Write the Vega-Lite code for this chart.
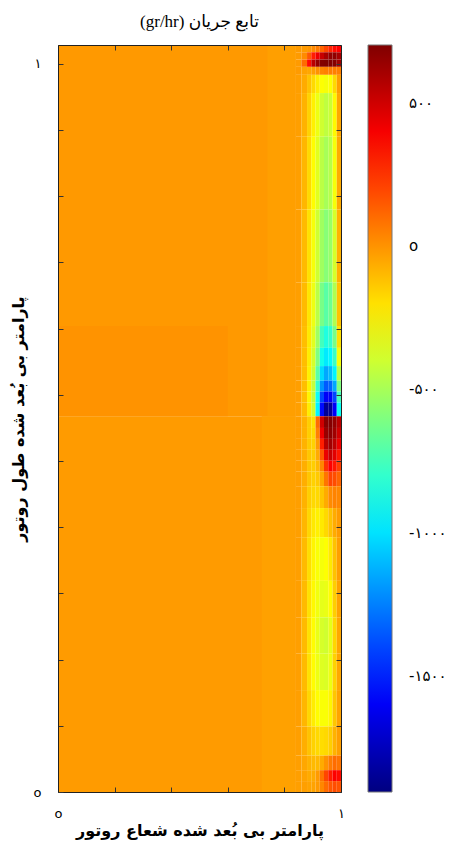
{
  "$schema": "https://vega.github.io/schema/vega-lite/v6.json",
  "autosize": "none",
  "width": 283,
  "height": 747,
  "padding": {"left": 58, "top": 45, "right": 114, "bottom": 49},
  "background": "white",
  "title": {"text": "(gr/hr) تابع جریان", "font": "Liberation Serif, DejaVu Sans", "fontSize": 17, "fontWeight": "normal", "color": "#000", "anchor": "middle", "offset": 14},
  "config": {"view": {"stroke": null}},
  "data": {"values": [
    {"x0":0,"x1":0.84,"y0":0,"y1":0.516,"v":-20},
    {"x0":0,"x1":0.84,"y0":0.516,"y1":1.026,"v":-15},
    {"x0":0,"x1":0.6,"y0":0.516,"y1":0.64,"v":0},
    {"x0":0.72,"x1":0.84,"y0":0,"y1":0.516,"v":-35},
    {"x0":0.74,"x1":0.84,"y0":0.516,"y1":1.026,"v":-30},

    {"x0":0.84,"x1":0.86,"y0":1.016,"y1":1.026,"v":-20},{"x0":0.86,"x1":0.88,"y0":1.016,"y1":1.026,"v":-20},{"x0":0.88,"x1":0.895,"y0":1.016,"y1":1.026,"v":-10},{"x0":0.895,"x1":0.91,"y0":1.016,"y1":1.026,"v":20},{"x0":0.91,"x1":0.925,"y0":1.016,"y1":1.026,"v":60},{"x0":0.925,"x1":0.94,"y0":1.016,"y1":1.026,"v":120},{"x0":0.94,"x1":0.955,"y0":1.016,"y1":1.026,"v":200},{"x0":0.955,"x1":0.97,"y0":1.016,"y1":1.026,"v":280},{"x0":0.97,"x1":0.985,"y0":1.016,"y1":1.026,"v":350},{"x0":0.985,"x1":1,"y0":1.016,"y1":1.026,"v":380},
    {"x0":0.84,"x1":0.86,"y0":1.006,"y1":1.016,"v":-20},{"x0":0.86,"x1":0.88,"y0":1.006,"y1":1.016,"v":20},{"x0":0.88,"x1":0.895,"y0":1.006,"y1":1.016,"v":150},{"x0":0.895,"x1":0.91,"y0":1.006,"y1":1.016,"v":300},{"x0":0.91,"x1":0.925,"y0":1.006,"y1":1.016,"v":420},{"x0":0.925,"x1":0.94,"y0":1.006,"y1":1.016,"v":520},{"x0":0.94,"x1":0.955,"y0":1.006,"y1":1.016,"v":600},{"x0":0.955,"x1":0.97,"y0":1.006,"y1":1.016,"v":650},{"x0":0.97,"x1":0.985,"y0":1.006,"y1":1.016,"v":660},{"x0":0.985,"x1":1,"y0":1.006,"y1":1.016,"v":600},
    {"x0":0.84,"x1":0.86,"y0":0.996,"y1":1.006,"v":-20},{"x0":0.86,"x1":0.88,"y0":0.996,"y1":1.006,"v":100},{"x0":0.88,"x1":0.895,"y0":0.996,"y1":1.006,"v":350},{"x0":0.895,"x1":0.91,"y0":0.996,"y1":1.006,"v":550},{"x0":0.91,"x1":0.925,"y0":0.996,"y1":1.006,"v":650},{"x0":0.925,"x1":0.94,"y0":0.996,"y1":1.006,"v":690},{"x0":0.94,"x1":0.955,"y0":0.996,"y1":1.006,"v":700},{"x0":0.955,"x1":0.97,"y0":0.996,"y1":1.006,"v":700},{"x0":0.97,"x1":0.985,"y0":0.996,"y1":1.006,"v":690},{"x0":0.985,"x1":1,"y0":0.996,"y1":1.006,"v":620},
    {"x0":0.84,"x1":0.86,"y0":0.985,"y1":0.996,"v":-20},{"x0":0.86,"x1":0.88,"y0":0.985,"y1":0.996,"v":-40},{"x0":0.88,"x1":0.895,"y0":0.985,"y1":0.996,"v":-50},{"x0":0.895,"x1":0.91,"y0":0.985,"y1":0.996,"v":-30},{"x0":0.91,"x1":0.925,"y0":0.985,"y1":0.996,"v":0},{"x0":0.925,"x1":0.94,"y0":0.985,"y1":0.996,"v":30},{"x0":0.94,"x1":0.955,"y0":0.985,"y1":0.996,"v":50},{"x0":0.955,"x1":0.97,"y0":0.985,"y1":0.996,"v":50},{"x0":0.97,"x1":0.985,"y0":0.985,"y1":0.996,"v":50},{"x0":0.985,"x1":1,"y0":0.985,"y1":0.996,"v":50},
    {"x0":0.84,"x1":0.86,"y0":0.96,"y1":0.985,"v":-30},{"x0":0.86,"x1":0.88,"y0":0.96,"y1":0.985,"v":-60},{"x0":0.88,"x1":0.895,"y0":0.96,"y1":0.985,"v":-120},{"x0":0.895,"x1":0.91,"y0":0.96,"y1":0.985,"v":-180},{"x0":0.91,"x1":0.925,"y0":0.96,"y1":0.985,"v":-230},{"x0":0.925,"x1":0.94,"y0":0.96,"y1":0.985,"v":-280},{"x0":0.94,"x1":0.955,"y0":0.96,"y1":0.985,"v":-300},{"x0":0.955,"x1":0.97,"y0":0.96,"y1":0.985,"v":-280},{"x0":0.97,"x1":0.985,"y0":0.96,"y1":0.985,"v":-180},{"x0":0.985,"x1":1,"y0":0.96,"y1":0.985,"v":-30},
    {"x0":0.84,"x1":0.86,"y0":0.9,"y1":0.96,"v":-30},{"x0":0.86,"x1":0.88,"y0":0.9,"y1":0.96,"v":-80},{"x0":0.88,"x1":0.895,"y0":0.9,"y1":0.96,"v":-160},{"x0":0.895,"x1":0.91,"y0":0.9,"y1":0.96,"v":-240},{"x0":0.91,"x1":0.925,"y0":0.9,"y1":0.96,"v":-320},{"x0":0.925,"x1":0.94,"y0":0.9,"y1":0.96,"v":-400},{"x0":0.94,"x1":0.955,"y0":0.9,"y1":0.96,"v":-440},{"x0":0.955,"x1":0.97,"y0":0.9,"y1":0.96,"v":-410},{"x0":0.97,"x1":0.985,"y0":0.9,"y1":0.96,"v":-260},{"x0":0.985,"x1":1,"y0":0.9,"y1":0.96,"v":-50},
    {"x0":0.84,"x1":0.86,"y0":0.8,"y1":0.9,"v":-30},{"x0":0.86,"x1":0.88,"y0":0.8,"y1":0.9,"v":-90},{"x0":0.88,"x1":0.895,"y0":0.8,"y1":0.9,"v":-180},{"x0":0.895,"x1":0.91,"y0":0.8,"y1":0.9,"v":-270},{"x0":0.91,"x1":0.925,"y0":0.8,"y1":0.9,"v":-350},{"x0":0.925,"x1":0.94,"y0":0.8,"y1":0.9,"v":-450},{"x0":0.94,"x1":0.955,"y0":0.8,"y1":0.9,"v":-500},{"x0":0.955,"x1":0.97,"y0":0.8,"y1":0.9,"v":-460},{"x0":0.97,"x1":0.985,"y0":0.8,"y1":0.9,"v":-300},{"x0":0.985,"x1":1,"y0":0.8,"y1":0.9,"v":-60},
    {"x0":0.84,"x1":0.86,"y0":0.7,"y1":0.8,"v":-30},{"x0":0.86,"x1":0.88,"y0":0.7,"y1":0.8,"v":-100},{"x0":0.88,"x1":0.895,"y0":0.7,"y1":0.8,"v":-200},{"x0":0.895,"x1":0.91,"y0":0.7,"y1":0.8,"v":-300},{"x0":0.91,"x1":0.925,"y0":0.7,"y1":0.8,"v":-400},{"x0":0.925,"x1":0.94,"y0":0.7,"y1":0.8,"v":-520},{"x0":0.94,"x1":0.955,"y0":0.7,"y1":0.8,"v":-580},{"x0":0.955,"x1":0.97,"y0":0.7,"y1":0.8,"v":-540},{"x0":0.97,"x1":0.985,"y0":0.7,"y1":0.8,"v":-380},{"x0":0.985,"x1":1,"y0":0.7,"y1":0.8,"v":-80},
    {"x0":0.84,"x1":0.86,"y0":0.64,"y1":0.7,"v":-30},{"x0":0.86,"x1":0.88,"y0":0.64,"y1":0.7,"v":-100},{"x0":0.88,"x1":0.895,"y0":0.64,"y1":0.7,"v":-210},{"x0":0.895,"x1":0.91,"y0":0.64,"y1":0.7,"v":-320},{"x0":0.91,"x1":0.925,"y0":0.64,"y1":0.7,"v":-450},{"x0":0.925,"x1":0.94,"y0":0.64,"y1":0.7,"v":-620},{"x0":0.94,"x1":0.955,"y0":0.64,"y1":0.7,"v":-700},{"x0":0.955,"x1":0.97,"y0":0.64,"y1":0.7,"v":-650},{"x0":0.97,"x1":0.985,"y0":0.64,"y1":0.7,"v":-480},{"x0":0.985,"x1":1,"y0":0.64,"y1":0.7,"v":-120},
    {"x0":0.84,"x1":0.86,"y0":0.61,"y1":0.64,"v":-30},{"x0":0.86,"x1":0.88,"y0":0.61,"y1":0.64,"v":-110},{"x0":0.88,"x1":0.895,"y0":0.61,"y1":0.64,"v":-220},{"x0":0.895,"x1":0.91,"y0":0.61,"y1":0.64,"v":-350},{"x0":0.91,"x1":0.925,"y0":0.61,"y1":0.64,"v":-520},{"x0":0.925,"x1":0.94,"y0":0.61,"y1":0.64,"v":-760},{"x0":0.94,"x1":0.955,"y0":0.61,"y1":0.64,"v":-850},{"x0":0.955,"x1":0.97,"y0":0.61,"y1":0.64,"v":-800},{"x0":0.97,"x1":0.985,"y0":0.61,"y1":0.64,"v":-620},{"x0":0.985,"x1":1,"y0":0.61,"y1":0.64,"v":-200},
    {"x0":0.84,"x1":0.86,"y0":0.585,"y1":0.61,"v":-30},{"x0":0.86,"x1":0.88,"y0":0.585,"y1":0.61,"v":-110},{"x0":0.88,"x1":0.895,"y0":0.585,"y1":0.61,"v":-230},{"x0":0.895,"x1":0.91,"y0":0.585,"y1":0.61,"v":-380},{"x0":0.91,"x1":0.925,"y0":0.585,"y1":0.61,"v":-600},{"x0":0.925,"x1":0.94,"y0":0.585,"y1":0.61,"v":-880},{"x0":0.94,"x1":0.955,"y0":0.585,"y1":0.61,"v":-980},{"x0":0.955,"x1":0.97,"y0":0.585,"y1":0.61,"v":-940},{"x0":0.97,"x1":0.985,"y0":0.585,"y1":0.61,"v":-780},{"x0":0.985,"x1":1,"y0":0.585,"y1":0.61,"v":-300},
    {"x0":0.84,"x1":0.86,"y0":0.565,"y1":0.585,"v":-30},{"x0":0.86,"x1":0.88,"y0":0.565,"y1":0.585,"v":-110},{"x0":0.88,"x1":0.895,"y0":0.565,"y1":0.585,"v":-240},{"x0":0.895,"x1":0.91,"y0":0.565,"y1":0.585,"v":-400},{"x0":0.91,"x1":0.925,"y0":0.565,"y1":0.585,"v":-700},{"x0":0.925,"x1":0.94,"y0":0.565,"y1":0.585,"v":-1020},{"x0":0.94,"x1":0.955,"y0":0.565,"y1":0.585,"v":-1150},{"x0":0.955,"x1":0.97,"y0":0.565,"y1":0.585,"v":-1100},{"x0":0.97,"x1":0.985,"y0":0.565,"y1":0.585,"v":-950},{"x0":0.985,"x1":1,"y0":0.565,"y1":0.585,"v":-450},
    {"x0":0.84,"x1":0.86,"y0":0.55,"y1":0.565,"v":-30},{"x0":0.86,"x1":0.88,"y0":0.55,"y1":0.565,"v":-110},{"x0":0.88,"x1":0.895,"y0":0.55,"y1":0.565,"v":-240},{"x0":0.895,"x1":0.91,"y0":0.55,"y1":0.565,"v":-420},{"x0":0.91,"x1":0.925,"y0":0.55,"y1":0.565,"v":-800},{"x0":0.925,"x1":0.94,"y0":0.55,"y1":0.565,"v":-1200},{"x0":0.94,"x1":0.955,"y0":0.55,"y1":0.565,"v":-1350},{"x0":0.955,"x1":0.97,"y0":0.55,"y1":0.565,"v":-1320},{"x0":0.97,"x1":0.985,"y0":0.55,"y1":0.565,"v":-1150},{"x0":0.985,"x1":1,"y0":0.55,"y1":0.565,"v":-600},
    {"x0":0.84,"x1":0.86,"y0":0.535,"y1":0.55,"v":-30},{"x0":0.86,"x1":0.88,"y0":0.535,"y1":0.55,"v":-110},{"x0":0.88,"x1":0.895,"y0":0.535,"y1":0.55,"v":-250},{"x0":0.895,"x1":0.91,"y0":0.535,"y1":0.55,"v":-430},{"x0":0.91,"x1":0.925,"y0":0.535,"y1":0.55,"v":-900},{"x0":0.925,"x1":0.94,"y0":0.535,"y1":0.55,"v":-1400},{"x0":0.94,"x1":0.955,"y0":0.535,"y1":0.55,"v":-1600},{"x0":0.955,"x1":0.97,"y0":0.535,"y1":0.55,"v":-1600},{"x0":0.97,"x1":0.985,"y0":0.535,"y1":0.55,"v":-1400},{"x0":0.985,"x1":1,"y0":0.535,"y1":0.55,"v":-750},
    {"x0":0.84,"x1":0.86,"y0":0.516,"y1":0.535,"v":-30},{"x0":0.86,"x1":0.88,"y0":0.516,"y1":0.535,"v":-100},{"x0":0.88,"x1":0.895,"y0":0.516,"y1":0.535,"v":-230},{"x0":0.895,"x1":0.91,"y0":0.516,"y1":0.535,"v":-400},{"x0":0.91,"x1":0.925,"y0":0.516,"y1":0.535,"v":-950},{"x0":0.925,"x1":0.94,"y0":0.516,"y1":0.535,"v":-1550},{"x0":0.94,"x1":0.955,"y0":0.516,"y1":0.535,"v":-1850},{"x0":0.955,"x1":0.97,"y0":0.516,"y1":0.535,"v":-1850},{"x0":0.97,"x1":0.985,"y0":0.516,"y1":0.535,"v":-1600},{"x0":0.985,"x1":1,"y0":0.516,"y1":0.535,"v":-900},

    {"x0":0.84,"x1":0.86,"y0":0.5,"y1":0.516,"v":-30},{"x0":0.86,"x1":0.88,"y0":0.5,"y1":0.516,"v":-80},{"x0":0.88,"x1":0.895,"y0":0.5,"y1":0.516,"v":-150},{"x0":0.895,"x1":0.91,"y0":0.5,"y1":0.516,"v":-200},{"x0":0.91,"x1":0.925,"y0":0.5,"y1":0.516,"v":100},{"x0":0.925,"x1":0.94,"y0":0.5,"y1":0.516,"v":500},{"x0":0.94,"x1":0.955,"y0":0.5,"y1":0.516,"v":680},{"x0":0.955,"x1":0.97,"y0":0.5,"y1":0.516,"v":690},{"x0":0.97,"x1":0.985,"y0":0.5,"y1":0.516,"v":650},{"x0":0.985,"x1":1,"y0":0.5,"y1":0.516,"v":550},
    {"x0":0.84,"x1":0.86,"y0":0.485,"y1":0.5,"v":-30},{"x0":0.86,"x1":0.88,"y0":0.485,"y1":0.5,"v":-80},{"x0":0.88,"x1":0.895,"y0":0.485,"y1":0.5,"v":-150},{"x0":0.895,"x1":0.91,"y0":0.485,"y1":0.5,"v":-180},{"x0":0.91,"x1":0.925,"y0":0.485,"y1":0.5,"v":50},{"x0":0.925,"x1":0.94,"y0":0.485,"y1":0.5,"v":420},{"x0":0.94,"x1":0.955,"y0":0.485,"y1":0.5,"v":640},{"x0":0.955,"x1":0.97,"y0":0.485,"y1":0.5,"v":670},{"x0":0.97,"x1":0.985,"y0":0.485,"y1":0.5,"v":620},{"x0":0.985,"x1":1,"y0":0.485,"y1":0.5,"v":500},
    {"x0":0.84,"x1":0.86,"y0":0.47,"y1":0.485,"v":-30},{"x0":0.86,"x1":0.88,"y0":0.47,"y1":0.485,"v":-80},{"x0":0.88,"x1":0.895,"y0":0.47,"y1":0.485,"v":-140},{"x0":0.895,"x1":0.91,"y0":0.47,"y1":0.485,"v":-160},{"x0":0.91,"x1":0.925,"y0":0.47,"y1":0.485,"v":-20},{"x0":0.925,"x1":0.94,"y0":0.47,"y1":0.485,"v":300},{"x0":0.94,"x1":0.955,"y0":0.47,"y1":0.485,"v":560},{"x0":0.955,"x1":0.97,"y0":0.47,"y1":0.485,"v":620},{"x0":0.97,"x1":0.985,"y0":0.47,"y1":0.485,"v":550},{"x0":0.985,"x1":1,"y0":0.47,"y1":0.485,"v":420},
    {"x0":0.84,"x1":0.86,"y0":0.455,"y1":0.47,"v":-30},{"x0":0.86,"x1":0.88,"y0":0.455,"y1":0.47,"v":-70},{"x0":0.88,"x1":0.895,"y0":0.455,"y1":0.47,"v":-130},{"x0":0.895,"x1":0.91,"y0":0.455,"y1":0.47,"v":-150},{"x0":0.91,"x1":0.925,"y0":0.455,"y1":0.47,"v":-60},{"x0":0.925,"x1":0.94,"y0":0.455,"y1":0.47,"v":150},{"x0":0.94,"x1":0.955,"y0":0.455,"y1":0.47,"v":430},{"x0":0.955,"x1":0.97,"y0":0.455,"y1":0.47,"v":520},{"x0":0.97,"x1":0.985,"y0":0.455,"y1":0.47,"v":450},{"x0":0.985,"x1":1,"y0":0.455,"y1":0.47,"v":320},
    {"x0":0.84,"x1":0.86,"y0":0.44,"y1":0.455,"v":-30},{"x0":0.86,"x1":0.88,"y0":0.44,"y1":0.455,"v":-70},{"x0":0.88,"x1":0.895,"y0":0.44,"y1":0.455,"v":-130},{"x0":0.895,"x1":0.91,"y0":0.44,"y1":0.455,"v":-150},{"x0":0.91,"x1":0.925,"y0":0.44,"y1":0.455,"v":-100},{"x0":0.925,"x1":0.94,"y0":0.44,"y1":0.455,"v":30},{"x0":0.94,"x1":0.955,"y0":0.44,"y1":0.455,"v":250},{"x0":0.955,"x1":0.97,"y0":0.44,"y1":0.455,"v":380},{"x0":0.97,"x1":0.985,"y0":0.44,"y1":0.455,"v":320},{"x0":0.985,"x1":1,"y0":0.44,"y1":0.455,"v":220},
    {"x0":0.84,"x1":0.86,"y0":0.42,"y1":0.44,"v":-30},{"x0":0.86,"x1":0.88,"y0":0.42,"y1":0.44,"v":-70},{"x0":0.88,"x1":0.895,"y0":0.42,"y1":0.44,"v":-130},{"x0":0.895,"x1":0.91,"y0":0.42,"y1":0.44,"v":-160},{"x0":0.91,"x1":0.925,"y0":0.42,"y1":0.44,"v":-140},{"x0":0.925,"x1":0.94,"y0":0.42,"y1":0.44,"v":-60},{"x0":0.94,"x1":0.955,"y0":0.42,"y1":0.44,"v":80},{"x0":0.955,"x1":0.97,"y0":0.42,"y1":0.44,"v":200},{"x0":0.97,"x1":0.985,"y0":0.42,"y1":0.44,"v":180},{"x0":0.985,"x1":1,"y0":0.42,"y1":0.44,"v":120},
    {"x0":0.84,"x1":0.86,"y0":0.39,"y1":0.42,"v":-30},{"x0":0.86,"x1":0.88,"y0":0.39,"y1":0.42,"v":-80},{"x0":0.88,"x1":0.895,"y0":0.39,"y1":0.42,"v":-150},{"x0":0.895,"x1":0.91,"y0":0.39,"y1":0.42,"v":-180},{"x0":0.91,"x1":0.925,"y0":0.39,"y1":0.42,"v":-180},{"x0":0.925,"x1":0.94,"y0":0.39,"y1":0.42,"v":-130},{"x0":0.94,"x1":0.955,"y0":0.39,"y1":0.42,"v":-60},{"x0":0.955,"x1":0.97,"y0":0.39,"y1":0.42,"v":20},{"x0":0.97,"x1":0.985,"y0":0.39,"y1":0.42,"v":40},{"x0":0.985,"x1":1,"y0":0.39,"y1":0.42,"v":30},
    {"x0":0.84,"x1":0.86,"y0":0.35,"y1":0.39,"v":-30},{"x0":0.86,"x1":0.88,"y0":0.35,"y1":0.39,"v":-90},{"x0":0.88,"x1":0.895,"y0":0.35,"y1":0.39,"v":-170},{"x0":0.895,"x1":0.91,"y0":0.35,"y1":0.39,"v":-220},{"x0":0.91,"x1":0.925,"y0":0.35,"y1":0.39,"v":-240},{"x0":0.925,"x1":0.94,"y0":0.35,"y1":0.39,"v":-220},{"x0":0.94,"x1":0.955,"y0":0.35,"y1":0.39,"v":-180},{"x0":0.955,"x1":0.97,"y0":0.35,"y1":0.39,"v":-120},{"x0":0.97,"x1":0.985,"y0":0.35,"y1":0.39,"v":-60},{"x0":0.985,"x1":1,"y0":0.35,"y1":0.39,"v":-20},
    {"x0":0.84,"x1":0.86,"y0":0.29,"y1":0.35,"v":-30},{"x0":0.86,"x1":0.88,"y0":0.29,"y1":0.35,"v":-100},{"x0":0.88,"x1":0.895,"y0":0.29,"y1":0.35,"v":-190},{"x0":0.895,"x1":0.91,"y0":0.29,"y1":0.35,"v":-250},{"x0":0.91,"x1":0.925,"y0":0.29,"y1":0.35,"v":-290},{"x0":0.925,"x1":0.94,"y0":0.29,"y1":0.35,"v":-300},{"x0":0.94,"x1":0.955,"y0":0.29,"y1":0.35,"v":-280},{"x0":0.955,"x1":0.97,"y0":0.29,"y1":0.35,"v":-220},{"x0":0.97,"x1":0.985,"y0":0.29,"y1":0.35,"v":-120},{"x0":0.985,"x1":1,"y0":0.29,"y1":0.35,"v":-30},
    {"x0":0.84,"x1":0.86,"y0":0.24,"y1":0.29,"v":-30},{"x0":0.86,"x1":0.88,"y0":0.24,"y1":0.29,"v":-100},{"x0":0.88,"x1":0.895,"y0":0.24,"y1":0.29,"v":-200},{"x0":0.895,"x1":0.91,"y0":0.24,"y1":0.29,"v":-260},{"x0":0.91,"x1":0.925,"y0":0.24,"y1":0.29,"v":-310},{"x0":0.925,"x1":0.94,"y0":0.24,"y1":0.29,"v":-340},{"x0":0.94,"x1":0.955,"y0":0.24,"y1":0.29,"v":-330},{"x0":0.955,"x1":0.97,"y0":0.24,"y1":0.29,"v":-270},{"x0":0.97,"x1":0.985,"y0":0.24,"y1":0.29,"v":-150},{"x0":0.985,"x1":1,"y0":0.24,"y1":0.29,"v":-40},
    {"x0":0.84,"x1":0.86,"y0":0.19,"y1":0.24,"v":-30},{"x0":0.86,"x1":0.88,"y0":0.19,"y1":0.24,"v":-100},{"x0":0.88,"x1":0.895,"y0":0.19,"y1":0.24,"v":-200},{"x0":0.895,"x1":0.91,"y0":0.19,"y1":0.24,"v":-270},{"x0":0.91,"x1":0.925,"y0":0.19,"y1":0.24,"v":-330},{"x0":0.925,"x1":0.94,"y0":0.19,"y1":0.24,"v":-380},{"x0":0.94,"x1":0.955,"y0":0.19,"y1":0.24,"v":-400},{"x0":0.955,"x1":0.97,"y0":0.19,"y1":0.24,"v":-340},{"x0":0.97,"x1":0.985,"y0":0.19,"y1":0.24,"v":-170},{"x0":0.985,"x1":1,"y0":0.19,"y1":0.24,"v":-50},
    {"x0":0.84,"x1":0.86,"y0":0.14,"y1":0.19,"v":-30},{"x0":0.86,"x1":0.88,"y0":0.14,"y1":0.19,"v":-100},{"x0":0.88,"x1":0.895,"y0":0.14,"y1":0.19,"v":-200},{"x0":0.895,"x1":0.91,"y0":0.14,"y1":0.19,"v":-270},{"x0":0.91,"x1":0.925,"y0":0.14,"y1":0.19,"v":-320},{"x0":0.925,"x1":0.94,"y0":0.14,"y1":0.19,"v":-360},{"x0":0.94,"x1":0.955,"y0":0.14,"y1":0.19,"v":-370},{"x0":0.955,"x1":0.97,"y0":0.14,"y1":0.19,"v":-320},{"x0":0.97,"x1":0.985,"y0":0.14,"y1":0.19,"v":-160},{"x0":0.985,"x1":1,"y0":0.14,"y1":0.19,"v":-50},
    {"x0":0.84,"x1":0.86,"y0":0.09,"y1":0.14,"v":-30},{"x0":0.86,"x1":0.88,"y0":0.09,"y1":0.14,"v":-90},{"x0":0.88,"x1":0.895,"y0":0.09,"y1":0.14,"v":-170},{"x0":0.895,"x1":0.91,"y0":0.09,"y1":0.14,"v":-230},{"x0":0.91,"x1":0.925,"y0":0.09,"y1":0.14,"v":-270},{"x0":0.925,"x1":0.94,"y0":0.09,"y1":0.14,"v":-290},{"x0":0.94,"x1":0.955,"y0":0.09,"y1":0.14,"v":-290},{"x0":0.955,"x1":0.97,"y0":0.09,"y1":0.14,"v":-250},{"x0":0.97,"x1":0.985,"y0":0.09,"y1":0.14,"v":-130},{"x0":0.985,"x1":1,"y0":0.09,"y1":0.14,"v":-40},
    {"x0":0.84,"x1":0.86,"y0":0.05,"y1":0.09,"v":-30},{"x0":0.86,"x1":0.88,"y0":0.05,"y1":0.09,"v":-70},{"x0":0.88,"x1":0.895,"y0":0.05,"y1":0.09,"v":-120},{"x0":0.895,"x1":0.91,"y0":0.05,"y1":0.09,"v":-160},{"x0":0.91,"x1":0.925,"y0":0.05,"y1":0.09,"v":-180},{"x0":0.925,"x1":0.94,"y0":0.05,"y1":0.09,"v":-190},{"x0":0.94,"x1":0.955,"y0":0.05,"y1":0.09,"v":-180},{"x0":0.955,"x1":0.97,"y0":0.05,"y1":0.09,"v":-150},{"x0":0.97,"x1":0.985,"y0":0.05,"y1":0.09,"v":-80},{"x0":0.985,"x1":1,"y0":0.05,"y1":0.09,"v":-30},
    {"x0":0.84,"x1":0.86,"y0":0.03,"y1":0.05,"v":-30},{"x0":0.86,"x1":0.88,"y0":0.03,"y1":0.05,"v":-50},{"x0":0.88,"x1":0.895,"y0":0.03,"y1":0.05,"v":-80},{"x0":0.895,"x1":0.91,"y0":0.03,"y1":0.05,"v":-100},{"x0":0.91,"x1":0.925,"y0":0.03,"y1":0.05,"v":-100},{"x0":0.925,"x1":0.94,"y0":0.03,"y1":0.05,"v":-60},{"x0":0.94,"x1":0.955,"y0":0.03,"y1":0.05,"v":0},{"x0":0.955,"x1":0.97,"y0":0.03,"y1":0.05,"v":60},{"x0":0.97,"x1":0.985,"y0":0.03,"y1":0.05,"v":100},{"x0":0.985,"x1":1,"y0":0.03,"y1":0.05,"v":80},
    {"x0":0.84,"x1":0.86,"y0":0.015,"y1":0.03,"v":-30},{"x0":0.86,"x1":0.88,"y0":0.015,"y1":0.03,"v":-40},{"x0":0.88,"x1":0.895,"y0":0.015,"y1":0.03,"v":-60},{"x0":0.895,"x1":0.91,"y0":0.015,"y1":0.03,"v":-60},{"x0":0.91,"x1":0.925,"y0":0.015,"y1":0.03,"v":-20},{"x0":0.925,"x1":0.94,"y0":0.015,"y1":0.03,"v":80},{"x0":0.94,"x1":0.955,"y0":0.015,"y1":0.03,"v":200},{"x0":0.955,"x1":0.97,"y0":0.015,"y1":0.03,"v":300},{"x0":0.97,"x1":0.985,"y0":0.015,"y1":0.03,"v":380},{"x0":0.985,"x1":1,"y0":0.015,"y1":0.03,"v":350},
    {"x0":0.84,"x1":0.86,"y0":0,"y1":0.015,"v":-30},{"x0":0.86,"x1":0.88,"y0":0,"y1":0.015,"v":-30},{"x0":0.88,"x1":0.895,"y0":0,"y1":0.015,"v":-40},{"x0":0.895,"x1":0.91,"y0":0,"y1":0.015,"v":-40},{"x0":0.91,"x1":0.925,"y0":0,"y1":0.015,"v":-20},{"x0":0.925,"x1":0.94,"y0":0,"y1":0.015,"v":30},{"x0":0.94,"x1":0.955,"y0":0,"y1":0.015,"v":100},{"x0":0.955,"x1":0.97,"y0":0,"y1":0.015,"v":150},{"x0":0.97,"x1":0.985,"y0":0,"y1":0.015,"v":180},{"x0":0.985,"x1":1,"y0":0,"y1":0.015,"v":160}
  ]},
  "layer": [
    {
      "mark": {"type": "rect", "clip": true},
      "encoding": {
        "x": {"field": "x0", "type": "quantitative", "scale": {"domain": [0, 1], "nice": false, "zero": false},
          "axis": {"orient": "bottom", "zindex": 1, "values": [0, 0.2, 0.4, 0.6, 0.8, 1], "labelExpr": "datum.value == 0 ? 'o' : (datum.value == 1 ? '۱' : '')", "tickSize": -5, "tickColor": "#333", "domain": true, "domainColor": "#222", "grid": false, "labelFont": "DejaVu Sans", "labelFontSize": 13, "labelColor": "#000", "labelPadding": 20, "labelFlush": false,
            "title": "پارامتر بی بُعد شده شعاع روتور", "titleFont": "DejaVu Sans", "titleFontSize": 16, "titleFontWeight": "bold", "titleColor": "#000", "titleY": 38, "titleBaseline": "middle"}},
        "x2": {"field": "x1"},
        "y": {"field": "y0", "type": "quantitative", "scale": {"domain": [0, 1.026], "nice": false, "zero": false},
          "axis": {"orient": "left", "zindex": 1, "values": [0, 0.0909, 0.1818, 0.2727, 0.3636, 0.4545, 0.5455, 0.6364, 0.7273, 0.8182, 0.9091, 1], "labelExpr": "datum.value == 0 ? 'o' : (datum.value == 1 ? '۱' : '')", "tickSize": -5, "tickColor": "#333", "domain": true, "domainColor": "#222", "grid": false, "labelFont": "DejaVu Sans", "labelFontSize": 13, "labelColor": "#000", "labelPadding": 22, "labelFlush": false,
            "title": "پارامتر بی بُعد شده طول روتور", "titleFont": "DejaVu Sans", "titleFontSize": 16, "titleFontWeight": "bold", "titleColor": "#000", "titleX": -40, "titleBaseline": "middle"}},
        "y2": {"field": "y1"},
        "color": {"field": "v", "type": "quantitative",
          "scale": {"domain": [-1905, -1579, -928, -276, 376, 701], "range": ["#000080", "#0000ff", "#00ffff", "#ffff00", "#ff0000", "#800000"], "interpolate": "rgb"},
          "legend": {"type": "gradient", "orient": "none", "legendX": 310, "legendY": 0, "direction": "vertical", "title": null, "gradientLength": 747, "gradientThickness": 24, "gradientStrokeColor": "#777", "gradientStrokeWidth": 1,
            "values": [500, 0, -500, -1000, -1500], "labelExpr": "datum.value == 500 ? '۵۰۰' : datum.value == 0 ? 'o' : datum.value == -500 ? '-۵۰۰' : datum.value == -1000 ? '-۱۰۰۰' : '-۱۵۰۰'",
            "labelFont": "DejaVu Sans", "labelFontSize": 15, "labelColor": "#000", "labelOffset": 17, "labelOverlap": false}}
      }
    },
    {
      "mark": {"type": "rect", "opacity": 0},
      "encoding": {
        "x": {"field": "x0", "type": "quantitative", "scale": {"domain": [0, 1], "nice": false, "zero": false},
          "axis": {"orient": "top", "zindex": 1, "values": [0, 0.2, 0.4, 0.6, 0.8, 1], "labels": false, "tickSize": -5, "tickColor": "#333", "domain": true, "domainColor": "#222", "grid": false, "title": null}},
        "x2": {"field": "x1"},
        "y": {"field": "y0", "type": "quantitative", "scale": {"domain": [0, 1.026], "nice": false, "zero": false},
          "axis": {"orient": "right", "zindex": 1, "values": [0, 0.0909, 0.1818, 0.2727, 0.3636, 0.4545, 0.5455, 0.6364, 0.7273, 0.8182, 0.9091, 1], "labels": false, "tickSize": -5, "tickColor": "#333", "domain": true, "domainColor": "#222", "grid": false, "title": null}},
        "y2": {"field": "y1"}
      }
    }
  ],
  "resolve": {"axis": {"x": "independent", "y": "independent"}}
}
